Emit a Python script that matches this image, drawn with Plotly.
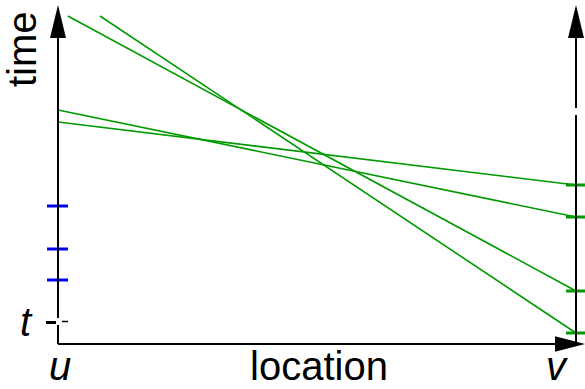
import plotly.graph_objects as go

# ---- data (location: u=0 .. v=1, time units) ----
line_x_start = [0.019, 0.081, 0.0, 0.0]
line_t_start = [32.8, 32.8, 23.4, 22.2]
line_x_end = [1.0, 1.0, 1.0, 1.0]
line_t_end = [5.3, 1.1, 12.7, 15.9]
blue_ticks = [13.8, 9.5, 6.4]
green_ticks = [15.9, 12.7, 5.3, 1.1]
t_value = 2.15
axis_top = 33.9

PX = 518.0  # pixels per location unit (for sizing)
TU = 10.0   # pixels per time unit

fig = go.Figure()
GREEN = "#009a00"
BLACK = "black"

# main green lines
for xs, ts, xe, te in zip(line_x_start, line_t_start, line_x_end, line_t_end):
    fig.add_trace(go.Scatter(x=[xs, xe], y=[ts, te], mode="lines",
                             line=dict(color=GREEN, width=1.6), hoverinfo="skip"))

# blue ticks on the left axis
for b in blue_ticks:
    fig.add_trace(go.Scatter(x=[-11 / PX, 10 / PX], y=[b, b], mode="lines",
                             line=dict(color="#0000f0", width=3), hoverinfo="skip"))
# green ticks on the right axis
for g in green_ticks:
    fig.add_trace(go.Scatter(x=[1 - 10 / PX, 1 + 9 / PX], y=[g, g], mode="lines",
                             line=dict(color=GREEN, width=3), hoverinfo="skip"))

# axes lines
ax = dict(color=BLACK, width=2)
# left axis (with break near t)
fig.add_trace(go.Scatter(x=[0, 0], y=[0, t_value - 0.25], mode="lines", line=ax, hoverinfo="skip"))
fig.add_trace(go.Scatter(x=[0, 0], y=[t_value + 0.45, axis_top - 3.0], mode="lines", line=ax, hoverinfo="skip"))
# t tick
fig.add_trace(go.Scatter(x=[-12 / PX, -2 / PX], y=[t_value, t_value], mode="lines",
                         line=dict(color=BLACK, width=3), hoverinfo="skip"))
fig.add_trace(go.Scatter(x=[4 / PX, 10 / PX], y=[t_value + 0.1, t_value + 0.1], mode="lines",
                         line=dict(color=BLACK, width=1.5), hoverinfo="skip"))
# right axis (with small gap)
fig.add_trace(go.Scatter(x=[1, 1], y=[0, 22.9], mode="lines", line=ax, hoverinfo="skip"))
fig.add_trace(go.Scatter(x=[1, 1], y=[23.6, axis_top - 3.0], mode="lines", line=ax, hoverinfo="skip"))
# horizontal axis
fig.add_trace(go.Scatter(x=[0, 1 - 20 / PX], y=[0, 0], mode="lines", line=ax, hoverinfo="skip"))

shapes = []
hw = 8 / PX
for xa in (0.0, 1.0):
    shapes.append(dict(type="path", xref="x", yref="y",
                       path=f"M {xa-hw},{axis_top-3.3} L {xa},{axis_top} L {xa+hw},{axis_top-3.3} Z",
                       fillcolor=BLACK, line=dict(width=0)))
xt = 1 + 9 / PX
xb = 1 - 21 / PX
hh = 0.78
shapes.append(dict(type="path", xref="x", yref="y",
                   path=f"M {xb},{-hh} L {xt},0 L {xb},{hh} Z",
                   fillcolor=BLACK, line=dict(width=0)))

ann = []
FONT = "Liberation Sans"
BOTTOM = -4.45
ann.append(dict(x=-36 / PX, y=29.5, text="time", showarrow=False, textangle=-90,
                font=dict(family=FONT, size=40, color=BLACK), xanchor="center", yanchor="middle"))
ann.append(dict(x=0.504, y=BOTTOM, text="location", showarrow=False, borderpad=0,
                font=dict(family=FONT, size=40, color=BLACK), xanchor="center", yanchor="bottom"))
ann.append(dict(x=-32 / PX, y=t_value + 0.05, text="<i>t</i>", showarrow=False,
                font=dict(family=FONT, size=40, color=BLACK), xanchor="center", yanchor="middle"))
ann.append(dict(x=2 / PX, y=BOTTOM, text="<i>u</i>", showarrow=False, borderpad=0,
                font=dict(family=FONT, size=40, color=BLACK), xanchor="center", yanchor="bottom"))
ann.append(dict(x=1 - 19 / PX, y=BOTTOM, text="<i>v</i>", showarrow=False, borderpad=0,
                font=dict(family=FONT, size=40, color=BLACK), xanchor="center", yanchor="bottom"))

fig.update_layout(
    width=585, height=389, margin=dict(l=0, r=0, t=0, b=0),
    paper_bgcolor="white", plot_bgcolor="white", showlegend=False,
    xaxis=dict(range=[-58 / PX, 527 / PX], visible=False, fixedrange=True),
    yaxis=dict(range=[-4.5, 34.4], visible=False, fixedrange=True),
    shapes=shapes, annotations=ann,
)
fig.write_html("out.html")
